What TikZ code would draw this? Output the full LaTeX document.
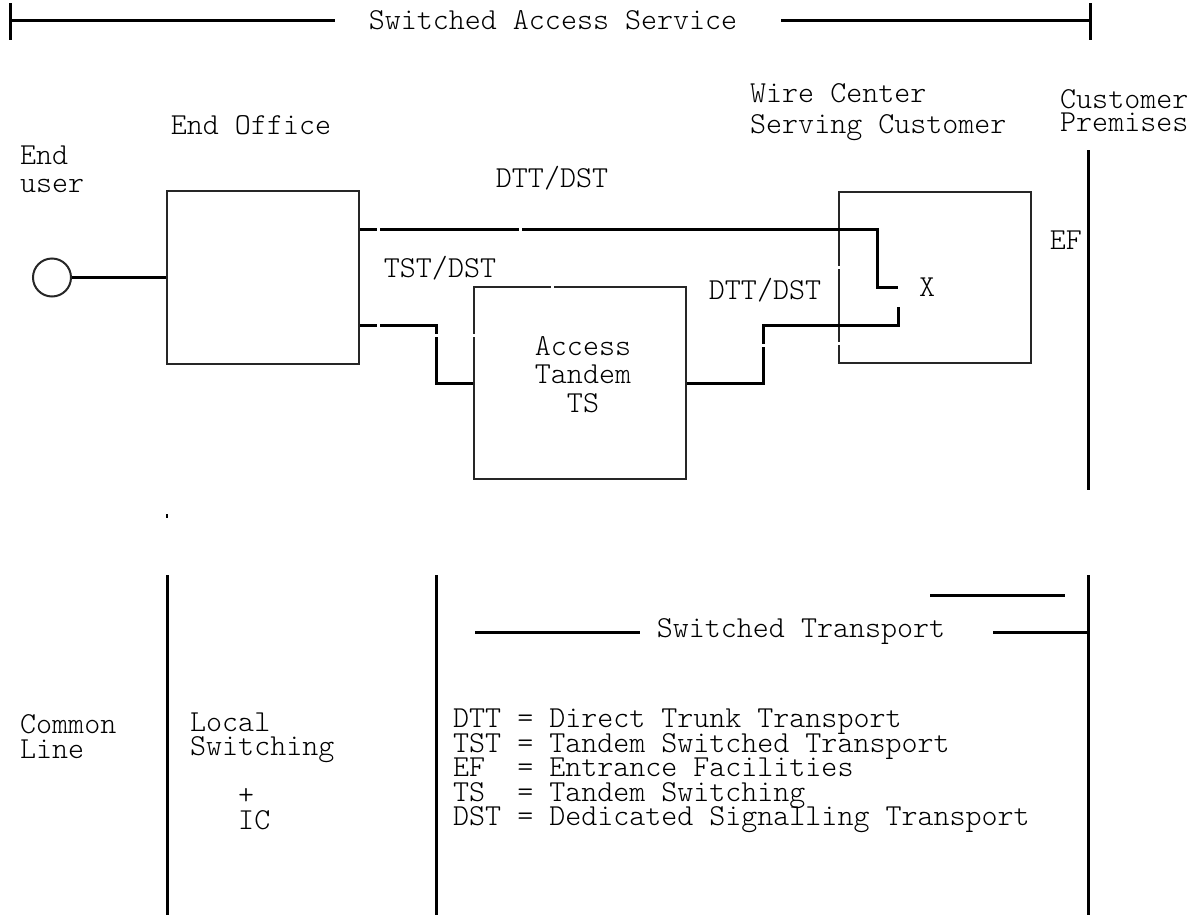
\documentclass[tikz,border=0pt]{standalone}
\usepackage{fontspec}
\setmonofont{lmmonolt10-regular.otf}
\usepackage{tikz}
\usetikzlibrary{positioning,calc}
\setlength{\lineskiplimit}{-100pt}
\tikzset{
  office/.style={draw=black!85, line width=2.2pt, inner sep=0pt},
  enduser/.style={circle, draw=black!85, line width=2pt, minimum size=38pt, inner sep=0pt},
  lbl/.style={font=\fontsize{30.5}{24.5}\selectfont\ttfamily, inner sep=0pt, align=left},
  trunk/.style={line width=3pt, black},
  bar/.style={line width=3pt, black}
}

\begin{document}
\begin{tikzpicture}[x=1pt, y=-1pt]
  \useasboundingbox (0,0) rectangle (1199,918);

  % switched access service span
  \node[lbl] (sas) at (553,20) {Switched Access Service};
  \draw[bar] (10,3) -- (10,40);
  \draw[bar] (10,20) -- (335,20);
  \draw[bar] (781,20) -- (1090,20);
  \draw[bar] (1090,3) -- (1090,40);

  % end user and end office
  \node[lbl, anchor=west, font=\fontsize{30.5}{28}\selectfont\ttfamily] (eulbl) at (20,169) {End\\user};
  \node[enduser] (eu) at (52,277.5) {};
  \node[office, minimum width=192pt, minimum height=173pt] (eo) at (263,277.5) {};
  \node[lbl] (eolbl) at (251,125) {End Office};
  \draw[trunk] (eu) -- (eu -| eo.west);

  % access tandem
  \node[office, minimum width=212pt, minimum height=192pt] (at) at (580,383) {};
  \node[lbl, align=center, font=\fontsize{30.5}{28.5}\selectfont\ttfamily] (atlbl) at (583,374.5) {Access\\Tandem\\TS};

  % wire center serving customer
  \node[office, minimum width=192pt, minimum height=171pt] (wc) at (935,277.5) {};
  \node[lbl, anchor=west, font=\fontsize{30.5}{31}\selectfont\ttfamily] (wclbl) at (750,112.5) {Wire Center\\Serving Customer};
  \coordinate (xa) at (898,287);
  \coordinate (xb) at (898,307);
  \node[lbl] (xpt) at (927,287) {X};

  % trunks
  \draw[trunk] ([yshift=48.5pt]eo.east) -| (877,287) -- (xa);
  \draw[trunk] ([yshift=-47.5pt]eo.east) -| (436,383) -- (at.west);
  \draw[trunk] (at.east) -| (763,325) -| (xb);
  \node[lbl] (dtt1) at (552,178) {DTT/DST};
  \node[lbl] (tst) at (440,268) {TST/DST};
  \node[lbl] (dtt2) at (765,290) {DTT/DST};

  % small breaks in the scanned lines
  \foreach \gx/\gy in {378/229, 520/229, 378/325, 552/287}
    \fill[white] (\gx-1.5,\gy-3) rectangle (\gx+1.5,\gy+3);
  \foreach \gx/\gy in {436/335, 474/335, 763/345, 839/267, 839/343}
    \fill[white] (\gx-3,\gy-1.5) rectangle (\gx+3,\gy+1.5);

  % customer premises
  \node[lbl, anchor=west, font=\fontsize{30.5}{23}\selectfont\ttfamily] (cplbl) at (1060,111) {Customer\\Premises};
  \draw[bar] (1088,150) -- (1088,490);
  \node[lbl, anchor=east] (ef) at (1082,240) {EF};

  % lower part: rate elements
  \draw[line width=2pt] (167,514) -- (167,518);
  \draw[bar] (167,575) -- (167,915);
  \draw[bar] (436,575) -- (436,915);
  \draw[bar] (1088,575) -- (1088,915);
  \draw[bar] (930,595) -- (1065,595);
  \node[lbl] (st) at (801,632) {Switched Transport};
  \draw[bar] (475,632) -- (640,632);
  \draw[bar] (993,632) -- (1088,632);

  \node[lbl, anchor=west] (cl) at (20,736.5) {Common\\Line};
  \node[lbl, anchor=west] (ls) at (190,771) {Local\\Switching\\\mbox{}\\~~~+\\~~~IC};
  \node[lbl, anchor=west] (legend) at (453,771)
    {DTT = Direct Trunk Transport\\
     TST = Tandem Switched Transport\\
     EF~ = Entrance Facilities\\
     TS~ = Tandem Switching\\
     DST = Dedicated Signalling Transport};
\end{tikzpicture}
\end{document}
